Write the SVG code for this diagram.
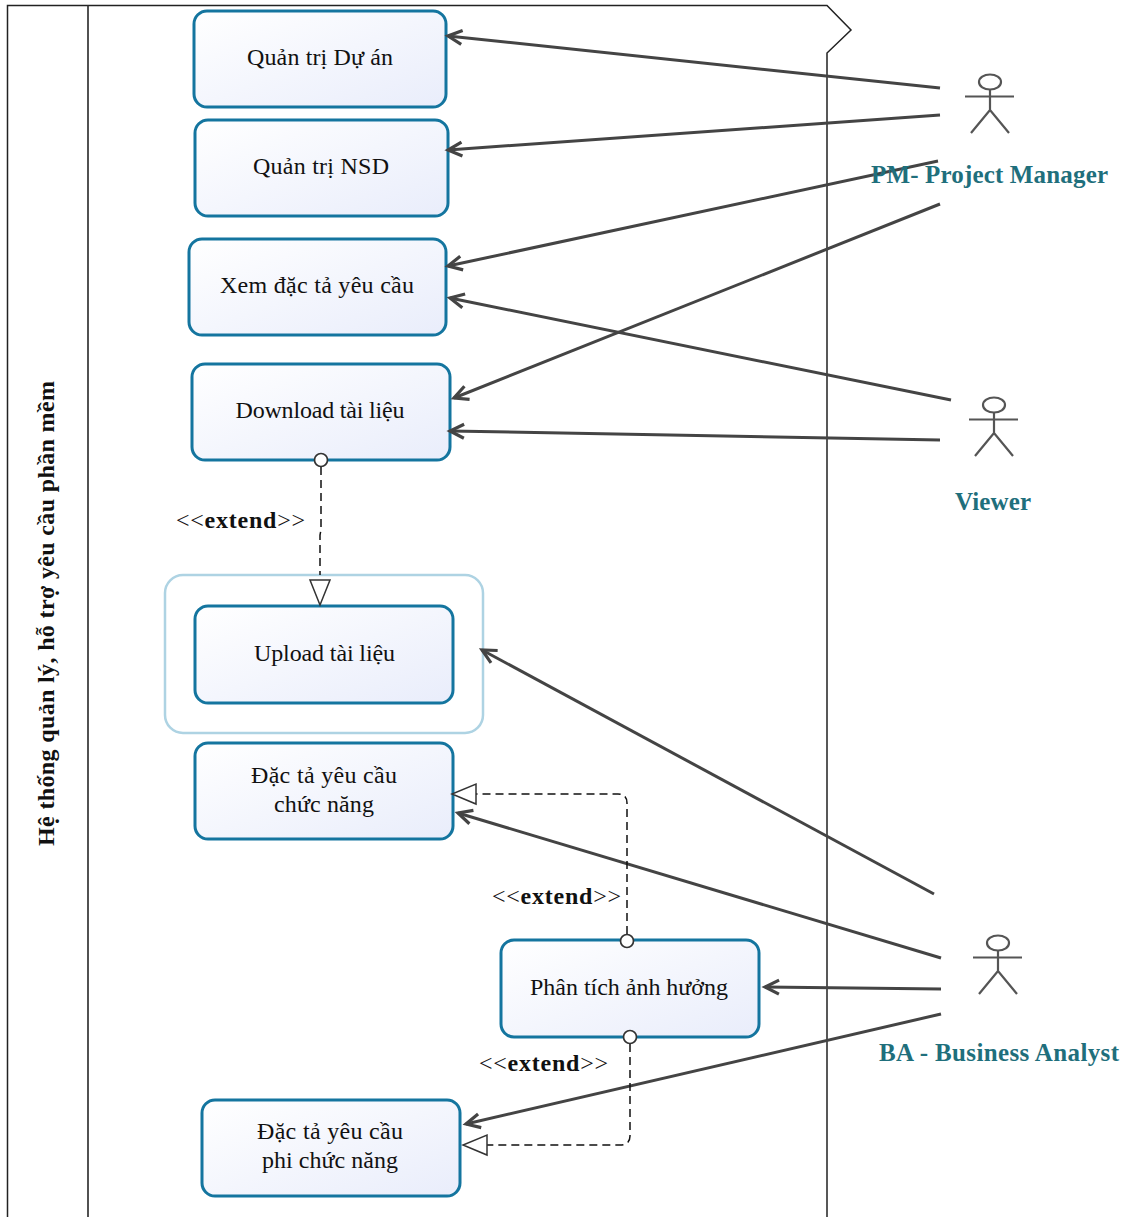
<svg xmlns="http://www.w3.org/2000/svg" width="1125" height="1217" viewBox="0 0 1125 1217">
<style>
text{font-family:"Liberation Serif","Times New Roman",serif}
.uc{fill:url(#ucfill);stroke:#14759f;stroke-width:3}
.ut{font-size:24px;fill:#111;text-anchor:middle}
.assoc{fill:none;stroke:#444;stroke-width:3;marker-end:url(#open)}
.dep{fill:none;stroke:#111;stroke-width:1.5;stroke-dasharray:8 5}
.ext{font-size:24px;fill:#111}
.ext tspan{font-weight:bold}
.act{font-size:25px;font-weight:bold;fill:#1f6f7c;text-anchor:middle}
.stick{fill:none;stroke:#555;stroke-width:2.2}
.tri{fill:#fff;stroke:#333;stroke-width:1.5}
.dot{fill:#fff;stroke:#333;stroke-width:1.7}
</style>
<defs>
<linearGradient id="ucfill" x1="0" y1="0" x2="1" y2="1"><stop offset="0" stop-color="#fff"/><stop offset="1" stop-color="#e9edfb"/></linearGradient>
<marker id="open" markerUnits="userSpaceOnUse" markerWidth="26" markerHeight="22" refX="17" refY="11" orient="auto"><path d="M3 4 L17 11 L3 18" fill="none" stroke="#444" stroke-width="3.2"/></marker>
</defs>
<rect width="1125" height="1217" fill="#fff"/>
<g id="frame" fill="none">
<path d="M7.5 1217V5.5H827L851 30L827 53V1217" stroke="#222" stroke-width="1.5"/>
<path d="M88 5.5V1217" stroke="#333" stroke-width="1.7"/>
<text transform="translate(54 613.500) rotate(-90)" font-size="24" font-weight="bold" fill="#111" text-anchor="middle" textLength="465">Hệ thống quản lý, hỗ trợ yêu cầu phần mềm</text>
</g>
<g id="upload-boundary"><rect x="165" y="575" width="318" height="158" rx="18" fill="#fff" stroke="#aed3e3" stroke-width="2.5"/></g>
<g id="uc-quantri-duan"><rect class="uc" x="194" y="11" width="252" height="96" rx="13"/><text class="ut" x="320" y="65" textLength="146">Quản trị Dự án</text></g>
<g id="uc-quantri-nsd"><rect class="uc" x="195" y="120" width="253" height="96" rx="13"/><text class="ut" x="321" y="174" textLength="136">Quản trị NSD</text></g>
<g id="uc-xem-dacta"><rect class="uc" x="189" y="239" width="257" height="96" rx="13"/><text class="ut" x="317" y="293" textLength="194">Xem đặc tả yêu cầu</text></g>
<g id="uc-download"><rect class="uc" x="192" y="364" width="258" height="96" rx="13"/><text class="ut" x="320" y="418" textLength="169">Download tài liệu</text></g>
<g id="uc-upload"><rect class="uc" x="195" y="606" width="258" height="97" rx="13"/><text class="ut" x="324.500" y="661" textLength="141">Upload tài liệu</text></g>
<g id="uc-dacta-cn"><rect class="uc" x="195" y="743" width="258" height="96" rx="13"/><text class="ut" x="324" y="783" textLength="146">Đặc tả yêu cầu</text><text class="ut" x="324" y="812" textLength="100">chức năng</text></g>
<g id="uc-phantich"><rect class="uc" x="501" y="940" width="258" height="97" rx="13"/><text class="ut" x="629" y="995" textLength="198">Phân tích ảnh hưởng</text></g>
<g id="uc-dacta-pcn"><rect class="uc" x="202" y="1100" width="258" height="96" rx="13"/><text class="ut" x="330" y="1139" textLength="146">Đặc tả yêu cầu</text><text class="ut" x="330" y="1168" textLength="136">phi chức năng</text></g>
<g id="connectors">
<path class="assoc" d="M940 88L448 36"/>
<path class="assoc" d="M940 115L448 150"/>
<path class="assoc" d="M938 161L448 266"/>
<path class="assoc" d="M940 204L454 398"/>
<path class="assoc" d="M951 400L450 298"/>
<path class="assoc" d="M940 440L450 431"/>
<path class="assoc" d="M934 894L482 650"/>
<path class="assoc" d="M941 958L458 813"/>
<path class="assoc" d="M941 989L765 987"/>
<path class="assoc" d="M941 1014L466 1124"/>
<path class="dep" d="M321 467V530L320 535V575"/>
<path class="tri" d="M310 580H330L320 605Z"/>
<circle class="dot" cx="321" cy="460" r="6.5"/>
<path class="dep" d="M627 934V803Q627 794 618 794H476"/>
<path class="tri" d="M476 784V804L452 794Z"/>
<circle class="dot" cx="627" cy="941" r="6.5"/>
<path class="dep" d="M630 1044V1136Q630 1145 620 1145H487"/>
<path class="tri" d="M487 1135V1155L463 1145Z"/>
<circle class="dot" cx="630" cy="1037" r="6.5"/>
</g>
<g id="ext-label-1"><text class="ext" x="176" y="528" textLength="129">&lt;&lt;<tspan>extend</tspan>&gt;&gt;</text></g>
<g id="ext-label-2"><text class="ext" x="492" y="904" textLength="129">&lt;&lt;<tspan>extend</tspan>&gt;&gt;</text></g>
<g id="ext-label-3"><text class="ext" x="479" y="1071" textLength="129">&lt;&lt;<tspan>extend</tspan>&gt;&gt;</text></g>
<g id="actor-pm">
<ellipse class="stick" cx="990" cy="82" rx="11" ry="7.5"/><path class="stick" d="M965 96.500H1014M990 90V110M971 133L990 110L1009 133"/>
<text class="act" x="989.500" y="183" textLength="237">PM- Project Manager</text>
</g>
<g id="actor-viewer">
<ellipse class="stick" cx="994" cy="405" rx="11" ry="7.5"/><path class="stick" d="M969 419.500H1018M994 413V433M975 456L994 433L1013 456"/>
<text class="act" x="993" y="510" textLength="76">Viewer</text>
</g>
<g id="actor-ba">
<ellipse class="stick" cx="998" cy="943" rx="11" ry="7.5"/><path class="stick" d="M973 957.500H1022M998 951V971M979 994L998 971L1017 994"/>
<text class="act" x="999" y="1061" textLength="240">BA - Business Analyst</text>
</g>
</svg>
